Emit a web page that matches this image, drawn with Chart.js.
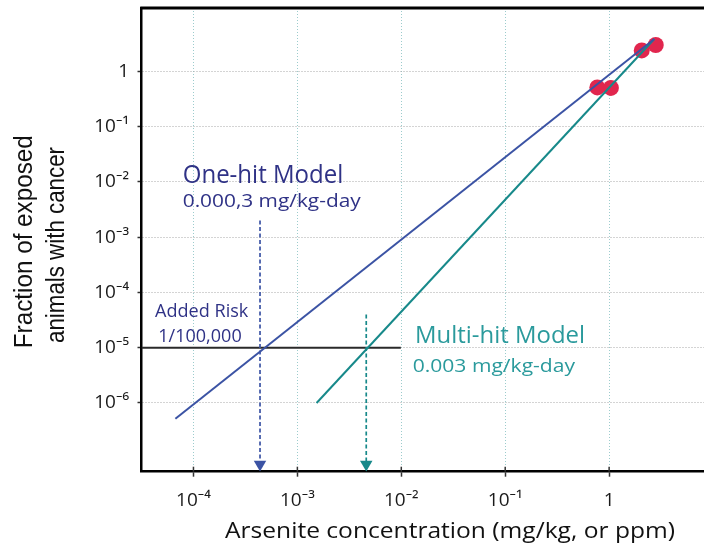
<!DOCTYPE html>
<html>
<head>
<meta charset="utf-8">
<script src="https://cdn.jsdelivr.net/npm/chart.js@4/dist/chart.umd.min.js"></script>
<style>
  html, body { margin: 0; padding: 0; background: #ffffff; overflow: hidden; }
  #wrap { position: relative; width: 704px; height: 554px; }
</style>
</head>
<body>
<div id="wrap"><canvas id="c" width="704" height="554"></canvas></div>
<script>
// ---- data ----
const xTickValues = [1e-4, 1e-3, 1e-2, 1e-1, 1];
const xTickLabels = ['10⁻⁴', '10⁻³', '10⁻²', '10⁻¹', '1'];
const yTickValues = [1e-6, 1e-5, 1e-4, 1e-3, 1e-2, 1e-1, 1];
const yTickLabels = ['10⁻⁶', '10⁻⁵', '10⁻⁴', '10⁻³', '10⁻²', '10⁻¹', '1'];

const xMin = Math.pow(10, -4.5), xMax = Math.pow(10, 0.913);
const yMin = Math.pow(10, -7.243), yMax = Math.pow(10, 1.144);

// observed tumour fractions (dose in mg/kg)
const doseX = [0.77, 1.04, 2.06, 2.81];
const doseY = [0.51, 0.50, 2.38, 2.98];

// model fits (end points of straight log-log lines)
const oneHitX = [6.7e-5, 2.72];
const oneHitY = [5.2e-7, 3.83];
const multiHitX = [1.53e-3, 2.72];
const multiHitY = [1.0e-6, 3.83];

// added-risk level
const riskLevel = 1e-5;
const riskX = [xMin, 0.0099];

// doses at the added-risk level (arrows)
const oneHitDose = 4.37e-4;
const multiHitDose = 4.6e-3;
const oneHitArrowY = [2.0e-3, 7.8e-8];
const multiHitArrowY = [4.0e-5, 7.8e-8];

const zip = (xs, ys) => xs.map((x, i) => ({x: x, y: ys[i]}));

const NAVY = '#2f3286', BLUE = '#3b53a4', TEAL = '#17898a', TEALTXT = '#2a9a9c', RED = '#e1264e';

// draw text at a given font size, squeezed/stretched along its length to a target width
function fitText(ctx, t, x, y, width, size, family, color, align, rot) {
  ctx.save();
  ctx.font = size + 'px ' + family;
  const w = ctx.measureText(t).width;
  const k = width / w;
  ctx.translate(x, y);
  if (rot) ctx.rotate(rot);
  ctx.scale(k, 1);
  ctx.fillStyle = color;
  ctx.textAlign = align || 'left';
  ctx.textBaseline = 'alphabetic';
  ctx.fillText(t, 0, 0);
  ctx.restore();
}

const decor = {
  id: 'decor',
  afterDraw(chart) {
    const {ctx, chartArea: a, scales} = chart;
    ctx.save();
    // top frame line
    ctx.strokeStyle = '#000'; ctx.lineWidth = 3;
    ctx.beginPath(); ctx.moveTo(a.left - 1.25, a.top); ctx.lineTo(chart.width, a.top); ctx.stroke();
    // inward part of x tick marks
    ctx.strokeStyle = '#333'; ctx.lineWidth = 1.5;
    scales.x.ticks.forEach(t => {
      const px = scales.x.getPixelForValue(t.value);
      ctx.beginPath(); ctx.moveTo(px, a.bottom); ctx.lineTo(px, a.bottom - 5); ctx.stroke();
    });
    ctx.restore();
    // annotations
    const fam = '"Open Sans", "Noto Sans", sans-serif';
    fitText(ctx, 'One-hit Model', 182.7, 183.3, 160.6, 25, fam, NAVY);
    fitText(ctx, '0.000,3 mg/kg-day', 182.7, 207.3, 178, 18, fam, NAVY);
    fitText(ctx, 'Added Risk', 201.7, 317.3, 93.3, 19, fam, NAVY, 'center');
    fitText(ctx, '1/100,000', 200, 342, 83.4, 19, fam, NAVY, 'center');
    fitText(ctx, 'Multi-hit Model', 415, 343.3, 170, 23, fam, TEALTXT);
    fitText(ctx, '0.003 mg/kg-day', 412.7, 371.7, 162.3, 18.5, fam, TEALTXT);
    // axis titles
    fitText(ctx, 'Arsenite concentration (mg/kg, or ppm)', 450, 538, 450, 21, fam, '#111', 'center');
    const yf = '"Liberation Sans", Arial, sans-serif';
    fitText(ctx, 'Fraction of exposed', 32, 241.7, 213, 25.5, yf, '#111', 'center', -Math.PI / 2);
    fitText(ctx, 'animals with cancer', 64, 245, 196, 25.5, yf, '#111', 'center', -Math.PI / 2);
  }
};

const tickFont = {family: '"Open Sans", "Noto Sans", "DejaVu Sans", sans-serif', size: 19};

new Chart(document.getElementById('c'), {
  type: 'scatter',
  data: {
    datasets: [
      { label: 'Observed', data: zip(doseX, doseY), backgroundColor: RED, borderWidth: 0,
        pointRadius: 8, pointHoverRadius: 8, order: 10 },
      { label: 'One-hit Model', data: zip(oneHitX, oneHitY), showLine: true, borderColor: BLUE,
        borderWidth: 2, pointRadius: 0, order: 1 },
      { label: 'Multi-hit Model', data: zip(multiHitX, multiHitY), showLine: true, borderColor: TEAL,
        borderWidth: 2, pointRadius: 0, order: 1 },
      { label: 'Added risk', data: zip(riskX, [riskLevel, riskLevel]), showLine: true, borderColor: '#2a2a2a',
        borderWidth: 2, pointRadius: 0, order: 2 },
      { label: 'One-hit dose', data: zip([oneHitDose, oneHitDose], oneHitArrowY), showLine: true,
        borderColor: BLUE, borderWidth: 1.7, borderDash: [4, 2.5],
        pointRadius: [0, 7.2], pointStyle: 'triangle', rotation: 180,
        backgroundColor: BLUE, pointBorderWidth: 0, order: 1 },
      { label: 'Multi-hit dose', data: zip([multiHitDose, multiHitDose], multiHitArrowY), showLine: true,
        borderColor: TEAL, borderWidth: 1.7, borderDash: [4, 2.5],
        pointRadius: [0, 7.2], pointStyle: 'triangle', rotation: 180,
        backgroundColor: TEAL, pointBorderWidth: 0, order: 1 }
    ]
  },
  options: {
    responsive: false,
    animation: false,
    events: [],
    layout: { autoPadding: false, padding: { top: 8, right: 0, bottom: 0, left: 0 } },
    plugins: { legend: { display: false }, tooltip: { enabled: false } },
    scales: {
      x: {
        type: 'logarithmic', min: xMin, max: xMax, bounds: 'data',
        afterBuildTicks: s => { s.ticks = xTickValues.map(v => ({value: v})); },
        afterFit: s => { s.height = 82.3; s.paddingLeft = 0; s.paddingRight = 0; },
        ticks: { autoSkip: false, maxRotation: 0, padding: 12, color: '#1a1a1a', font: tickFont,
                 callback: (v) => { const i = xTickValues.findIndex(t => Math.abs(Math.log10(t) - Math.log10(v)) < 1e-6); return i >= 0 ? xTickLabels[i] : ''; } },
        grid: { color: '#9ccccd', lineWidth: 1, tickColor: '#333', tickWidth: 1.5, tickLength: 5, tickBorderDash: [] },
        border: { display: true, color: '#000', width: 2.5, dash: [1, 2] }
      },
      y: {
        type: 'logarithmic', min: yMin, max: yMax, bounds: 'data',
        afterBuildTicks: s => { s.ticks = yTickValues.map(v => ({value: v})); },
        afterFit: s => { s.width = 141.5; s.paddingTop = 0; s.paddingBottom = 0; },
        ticks: { autoSkip: false, padding: 8.5, color: '#1a1a1a', font: tickFont,
                 callback: (v) => { const i = yTickValues.findIndex(t => Math.abs(Math.log10(t) - Math.log10(v)) < 1e-6); return i >= 0 ? yTickLabels[i] : ''; } },
        grid: { color: '#a8a8a8', lineWidth: 1, tickColor: '#333', tickWidth: 1.5, tickLength: 4, tickBorderDash: [] },
        border: { display: true, color: '#000', width: 2.5, dash: [1, 2] }
      }
    }
  },
  plugins: [decor]
});
</script>
</body>
</html>
